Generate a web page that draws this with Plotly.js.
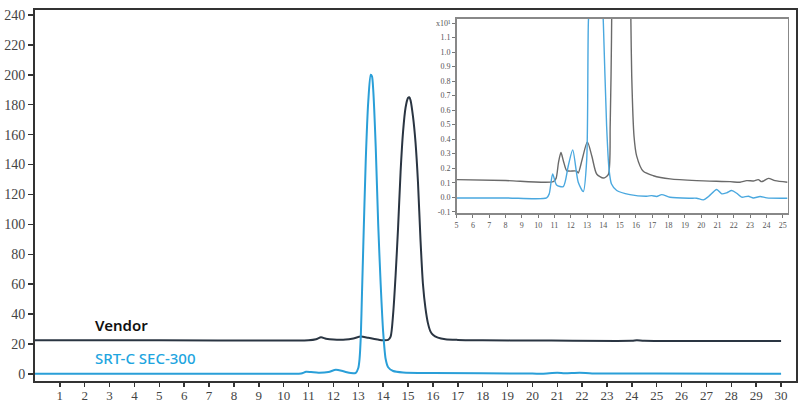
<!DOCTYPE html>
<html>
<head>
<meta charset="utf-8">
<script src="https://cdn.plot.ly/plotly-3.0.1.min.js"></script>
<style>html,body{margin:0;padding:0;background:#fff}#chart{width:800px;height:405px}</style>
</head>
<body>
<div id="chart"></div>
<script>
// Main chromatogram (minutes vs mAU)
const vendorX = [0, 5, 10, 11, 11.3, 11.5, 11.7, 12.0, 12.5, 12.8, 13.1, 13.4, 13.8, 14.0, 14.2, 14.3, 14.4, 14.5, 14.6, 14.7, 14.8, 14.9, 15.0, 15.05, 15.1, 15.2, 15.3, 15.4, 15.5, 15.6, 15.7, 15.8, 15.9, 16.0, 16.2, 16.5, 17, 18, 20, 24, 24.2, 24.5, 30];
const vendorY = [22.5, 22.5, 22.4, 22.5, 23.2, 24.5, 23.6, 23.0, 23.0, 23.8, 25.0, 24.2, 23.0, 22.6, 22.8, 25, 40, 66, 98, 135, 162, 178, 184.5, 185, 183, 172, 155, 128, 90, 60, 44, 34, 28.5, 26.2, 24.3, 23.2, 22.8, 22.6, 22.4, 22.2, 22.5, 22.2, 22.0];
const srtX = [0, 10, 10.7, 10.9, 11.1, 11.4, 11.8, 12.1, 12.4, 12.7, 12.9, 13.0, 13.05, 13.1, 13.15, 13.2, 13.3, 13.4, 13.5, 13.55, 13.6, 13.7, 13.8, 13.9, 14.0, 14.1, 14.2, 14.4, 14.8, 16, 20, 20.4, 21, 21.3, 21.9, 22.4, 25, 30];
const srtY = [0.2, 0.2, 0.3, 1.5, 1.3, 0.8, 1.3, 2.9, 1.8, 0.6, 0.8, 4, 10, 25, 55, 85, 143, 182, 200, 199, 190, 152, 100, 60, 28, 10, 4.5, 2, 1, 0.6, 0.3, 0.2, 0.8, 0.5, 0.8, 0.4, 0.3, 0.2];

// Inset (zoomed view, x10^1 units)
const insVendorX = [5, 8, 10.93, 11.1, 11.25, 11.4, 11.55, 11.75, 11.95, 12.36, 12.46, 12.7, 13.02, 13.3, 13.59, 14.0, 14.3, 14.42, 14.5, 14.6, 15.0, 15.6, 15.69, 15.74, 15.88, 16.04, 16.45, 17.07, 18.09, 19.72, 21.77, 22.38, 22.79, 23.2, 23.5, 23.71, 24.12, 24.53, 25.29];
const insVendorY = [0.121, 0.115, 0.107, 0.13, 0.24, 0.308, 0.25, 0.183, 0.18, 0.18, 0.167, 0.26, 0.381, 0.28, 0.16, 0.132, 0.155, 0.5, 1.1, 2.5, 15, 2.0, 1.2, 0.833, 0.42, 0.285, 0.178, 0.148, 0.126, 0.114, 0.107, 0.103, 0.114, 0.112, 0.121, 0.107, 0.130, 0.114, 0.103];
const insSrtX = [5, 8, 10.52, 10.68, 10.89, 11.13, 11.54, 11.85, 12.12, 12.46, 12.77, 12.98, 13.08, 13.2, 13.5, 13.9, 14.0, 14.2, 14.35, 14.5, 14.82, 15.63, 16.66, 16.96, 17.27, 17.58, 18.09, 19.31, 19.72, 20.13, 20.45, 20.95, 21.26, 21.56, 21.87, 22.18, 22.48, 22.89, 23.2, 23.61, 24.02, 25.29];
const insSrtY = [-0.005, -0.005, -0.005, 0.023, 0.16, 0.084, 0.073, 0.217, 0.326, 0.103, 0.039, 0.26, 1.2, 1.5, 6, 1.5, 1.2, 0.49, 0.19, 0.091, 0.046, 0.018, 0.007, 0.011, 0.005, 0.018, 0.0, -0.007, -0.007, -0.018, 0.005, 0.053, 0.023, 0.03, 0.046, 0.027, 0.0, 0.007, -0.005, 0.005, -0.005, -0.007];

const xTicks = [1,2,3,4,5,6,7,8,9,10,11,12,13,14,15,16,17,18,19,20,21,22,23,24,25,26,27,28,29,30];
const yTicks = [0,20,40,60,80,100,120,140,160,180,200,220,240];
const insXTicks = [5,6,7,8,9,10,11,12,13,14,15,16,17,18,19,20,21,22,23,24,25];
const insYTicks = [-0.1,0.0,0.1,0.2,0.3,0.4,0.5,0.6,0.7,0.8,0.9,1.0,1.1,1.2];
const insYText = ['-0.1','0.0','0.1','0.2','0.3','0.4','0.5','0.6','0.7','0.8','0.9','1.0','1.1','x10¹'];

const traces = [
  {x: vendorX, y: vendorY, type: 'scatter', mode: 'lines', line: {color: '#2a3542', width: 2, shape: 'spline', smoothing: 0.7}, xaxis: 'x', yaxis: 'y', hoverinfo: 'skip'},
  {x: srtX, y: srtY, type: 'scatter', mode: 'lines', line: {color: '#2a9fd8', width: 2, shape: 'spline', smoothing: 0.7}, xaxis: 'x', yaxis: 'y', hoverinfo: 'skip'},
  {x: insVendorX, y: insVendorY, type: 'scatter', mode: 'lines', line: {color: '#6a6a6a', width: 1.4, shape: 'spline', smoothing: 0.7}, xaxis: 'x2', yaxis: 'y2', hoverinfo: 'skip'},
  {x: insSrtX, y: insSrtY, type: 'scatter', mode: 'lines', line: {color: '#4aa8df', width: 1.4, shape: 'spline', smoothing: 0.7}, xaxis: 'x2', yaxis: 'y2', hoverinfo: 'skip'}
];

const layout = {
  width: 800, height: 405,
  margin: {l: 35, r: 4, t: 10, b: 24},
  paper_bgcolor: '#fff', plot_bgcolor: '#fff',
  showlegend: false,
  font: {family: 'Liberation Serif, serif', color: '#444'},
  xaxis: {
    domain: [0, 1], range: [0, 30.6], tickvals: xTicks, ticks: 'outside', ticklen: 4, tickwidth: 1.5, tickcolor: '#333',
    ticklabelstandoff: -3,
    showline: true, linecolor: '#333', linewidth: 2, mirror: true, showgrid: false, zeroline: false,
    tickfont: {family: 'Liberation Serif, serif', size: 13, color: '#444'}
  },
  yaxis: {
    domain: [0, 1], range: [-4.67, 243.3], tickvals: yTicks, ticks: 'outside', ticklen: 5, tickwidth: 1.5, tickcolor: '#333',
    showline: true, linecolor: '#333', linewidth: 2, mirror: true, showgrid: false, zeroline: false,
    tickfont: {family: 'Liberation Serif, serif', size: 14, color: '#444'}
  },
  xaxis2: {
    domain: [0.554, 0.989], anchor: 'y2', range: [5, 25.3], tickvals: insXTicks, ticks: 'outside', ticklen: 3, tickcolor: '#777',
    showline: true, linecolor: '#888', linewidth: 1.5, mirror: true, showgrid: false, zeroline: false,
    tickfont: {family: 'Liberation Serif, serif', size: 8, color: '#555'}
  },
  yaxis2: {
    domain: [0.4516, 0.9758], anchor: 'x2', range: [-0.112, 1.228], tickvals: insYTicks, ticktext: insYText, ticks: 'outside', ticklen: 3, tickcolor: '#777',
    showline: true, linecolor: '#888', linewidth: 1.5, mirror: true, showgrid: false, zeroline: false,
    tickfont: {family: 'Liberation Serif, serif', size: 8, color: '#555'}
  },
  annotations: [
    {x: 2.34, y: 33, xref: 'x', yref: 'y', text: 'Vendor', showarrow: false, xanchor: 'left', yanchor: 'middle',
     font: {family: 'Noto Sans, sans-serif', size: 15, color: '#111', weight: 600}},
    {x: 2.34, y: 11, xref: 'x', yref: 'y', text: 'SRT-C SEC-300', showarrow: false, xanchor: 'left', yanchor: 'middle',
     font: {family: 'Noto Sans, sans-serif', size: 15, color: '#1ea5e0', weight: 500}}
  ]
};

Plotly.newPlot('chart', traces, layout, {staticPlot: true, displayModeBar: false});
</script>
</body>
</html>
